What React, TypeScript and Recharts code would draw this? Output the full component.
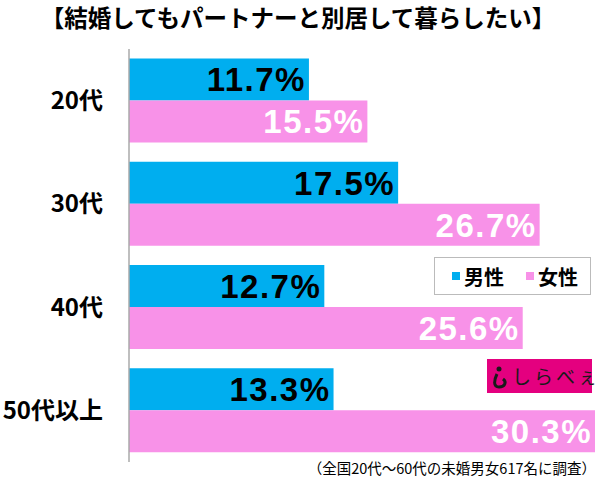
import React from "react";
import { BarChart, Bar, XAxis, YAxis, LabelList } from "recharts";

const ageGroups = ["20代", "30代", "40代", "50代以上"];
const maleValues = [11.7, 17.5, 12.7, 13.3];
const femaleValues = [15.5, 26.7, 25.6, 30.3];
const seriesNames = ["男性", "女性"];

const title = "【結婚してもパートナーと別居して暮らしたい】";
const footnote = "（全国20代〜60代の未婚男女617名に調査）";

const MALE = "#00aeef";
const FEMALE = "#f892e8";
const JP = "'Noto Sans CJK JP', 'Noto Sans', sans-serif";
const NUM = "'Liberation Sans', Arial, sans-serif";

const data = ageGroups.map((age, i) => ({
  age,
  male: maleValues[i],
  female: femaleValues[i],
}));

const pct = (v: number) => `${v}%`;

// legend drawn by hand so it doesn't eat plot space
const LegendBox = () => (
  <div
    style={{
      position: "absolute",
      left: 434,
      top: 257,
      width: 157,
      height: 38,
      border: "1px solid #bbb",
      background: "#fff",
      display: "flex",
      alignItems: "center",
      justifyContent: "flex-end",
      paddingRight: 12,
      boxSizing: "border-box",
      fontFamily: JP,
      fontWeight: 700,
      fontSize: 20,
      color: "#000",
    }}
  >
    {[MALE, FEMALE].map((c, i) => (
      <span key={i} style={{ display: "flex", alignItems: "center", marginLeft: i ? 22 : 0 }}>
        <span style={{ width: 8, height: 8, background: c, marginRight: 4 }} />
        {seriesNames[i]}
      </span>
    ))}
  </div>
);

const labelStyle = { fontSize: 33, fontWeight: 700, fontFamily: NUM, letterSpacing: 1.5 };

export default function App() {
  return (
    <div style={{ position: "absolute", left: 0, top: 0, width: 600, height: 479, background: "#fff" }}>
      <BarChart
        width={600}
        height={479}
        data={data}
        layout="vertical"
        margin={{ top: 49, right: 5, bottom: 17, left: 0 }}
        barCategoryGap="9.3%"
        barGap={0}
      >
        <XAxis type="number" domain={[0, 30.3]} hide />
        <YAxis
          type="category"
          dataKey="age"
          width={129}
          axisLine={{ stroke: "#aaa", strokeWidth: 1.5 }}
          tickLine={false}
          tickMargin={20}
          tick={{ fill: "#000", fontSize: 24, fontWeight: 700, fontFamily: JP }}
        />
        <Bar dataKey="male" name={seriesNames[0]} fill={MALE} isAnimationActive={false}>
          <LabelList
            dataKey="male"
            position="insideRight"
            offset={3}
            formatter={pct}
            fill="#000"
            style={labelStyle}
          />
        </Bar>
        <Bar dataKey="female" name={seriesNames[1]} fill={FEMALE} isAnimationActive={false}>
          <LabelList
            dataKey="female"
            position="insideRight"
            offset={3}
            formatter={pct}
            fill="#fff"
            style={labelStyle}
          />
        </Bar>
      </BarChart>
      <LegendBox />
      <svg
        width={600}
        height={479}
        style={{ position: "absolute", left: 0, top: 0, pointerEvents: "none" }}
      >
        <text x={298} y={27} textAnchor="middle" fontSize={23.5} fontWeight={700} fontFamily={JP} fill="#000">
          {title}
        </text>
        <rect x={487} y={359} width={105} height={34} fill="#e4007f" />
        <circle cx={499} cy={369} r={2.5} fill="#1a1a1a" />
        <path d="M497 374 C494 380, 493 387, 499 387 C505 387, 507 382, 503 379" stroke="#1a1a1a" strokeWidth={3} fill="none" />
        <text x={512} y={384} fontSize={19} fontFamily={JP} fill="#1a1a1a" letterSpacing={3}>
          しらべぇ
        </text>
        <text x={596} y={474} textAnchor="end" fontSize={14.5} fontFamily={JP} fill="#000">
          {footnote}
        </text>
      </svg>
    </div>
  );
}
